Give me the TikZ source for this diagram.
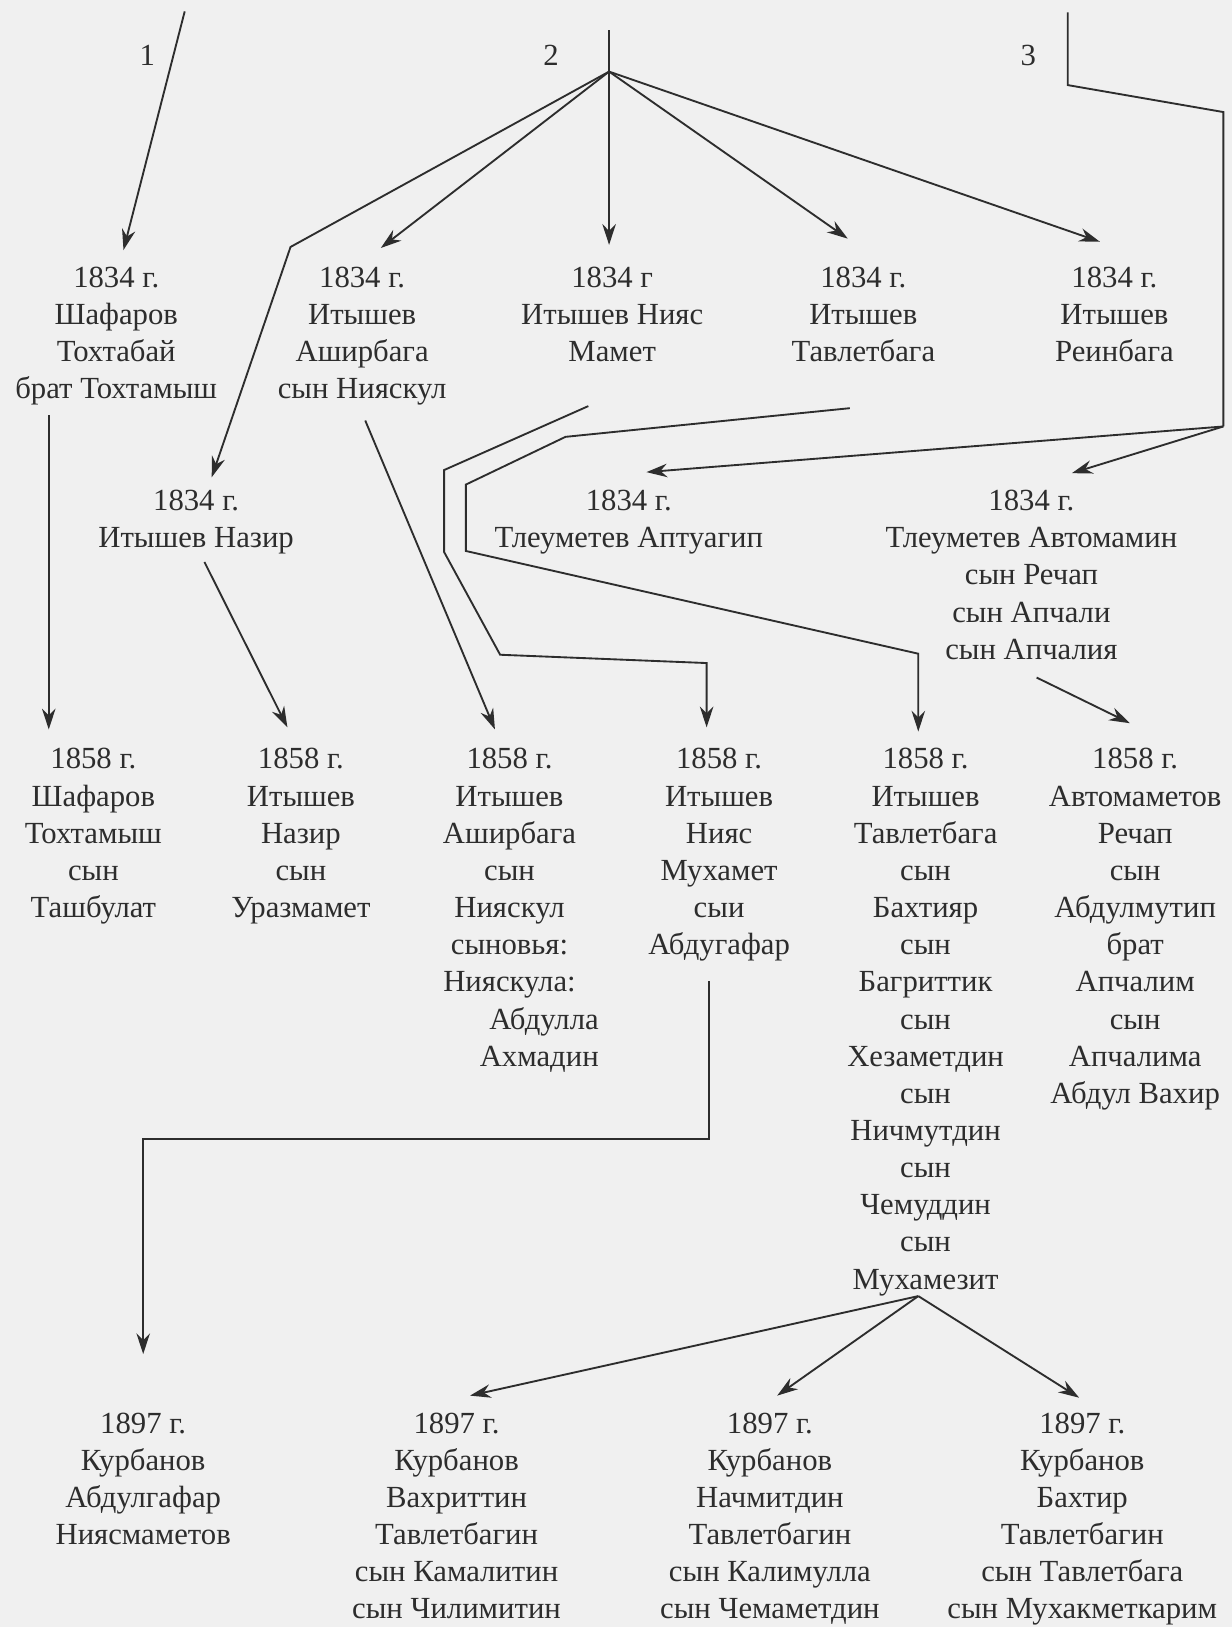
\documentclass[tikz,border=0pt]{standalone}
\usepackage{fontspec}
\setmainfont{Liberation Serif}
\usepackage{xcolor}
\usetikzlibrary{arrows.meta, calc}
\definecolor{ink}{RGB}{45,45,45}
\definecolor{paper}{RGB}{240,240,240}

\begin{document}
\begin{tikzpicture}[
    x=0.5pt,
    y=-0.5pt,
    >={Stealth[length=10pt, width=6.5pt]},
    person/.style={anchor=north, align=center, inner sep=0pt, text=ink, font=\fontsize{14.8}{17.9}\selectfont},
    num/.style={text=ink, font=\fontsize{14.8}{17.9}\selectfont},
    link/.style={draw=ink, line width=0.9pt}
]
% Page
\fill[paper] (0,0) rectangle (1187,1568);
\useasboundingbox (0,0) rectangle (1187,1568);
% Branch numbers
\node[num] (n1) at (142,53) {1};
\node[num] (n2) at (531,53) {2};
\node[num] (n3) at (991,53) {3};
\coordinate (top1) at (178,11);
\coordinate (top2) at (587,29);
\coordinate (hub) at (587,69);
\coordinate (top3) at (1029,12);
\coordinate (split3) at (1179,411);
% 1834
\node[person] (a1) at (112,257) {1834 г.\\Шафаров\\Тохтабай\\брат Тохтамыш};
\node[person] (a2) at (349,257) {1834 г.\\Итышев\\Аширбага\\сын Нияскул};
\node[person] (a3) at (590,257) {1834 г\\Итышев Нияс\\Мамет};
\node[person] (a4) at (832,257) {1834 г.\\Итышев\\Тавлетбага};
\node[person] (a5) at (1074,257) {1834 г.\\Итышев\\Реинбага};
\node[person] (b1) at (189,472) {1834 г.\\Итышев Назир};
\node[person] (b2) at (606,472) {1834 г.\\Тлеуметев Аптуагип};
\node[person] (b3) at (994,472) {1834 г.\\Тлеуметев Автомамин\\сын Речап\\сын Апчали\\сын Апчалия};
% 1858
\node[person] (c1) at (90,721) {1858 г.\\Шафаров\\Тохтамыш\\сын\\Ташбулат};
\node[person] (c2) at (290,721) {1858 г.\\Итышев\\Назир\\сын\\Уразмамет};
\node[person] (c3) at (491,721) {1858 г.\\Итышев\\Аширбага\\сын\\Нияскул\\сыновья:\\Нияскула:\\\makebox[86pt][r]{Абдулла}\\\makebox[86pt][r]{Ахмадин}};
\node[person] (c4) at (693,721) {1858 г.\\Итышев\\Нияс\\Мухамет\\сыи\\Абдугафар};
\node[person] (c5) at (892,721) {1858 г.\\Итышев\\Тавлетбага\\сын\\Бахтияр\\сын\\Багриттик\\сын\\Хезаметдин\\сын\\Ничмутдин\\сын\\Чемуддин\\сын\\Мухамезит};
\node[person] (c6) at (1094,721) {1858 г.\\Автомаметов\\Речап\\сын\\Абдулмутип\\брат\\Апчалим\\сын\\Апчалима\\Абдул Вахир};
% 1897
\node[person] (d1) at (138,1361) {1897 г.\\Курбанов\\Абдулгафар\\Ниясмаметов};
\node[person] (d2) at (440,1361) {1897 г.\\Курбанов\\Вахриттин\\Тавлетбагин\\сын Камалитин\\сын Чилимитин};
\node[person] (d3) at (742,1361) {1897 г.\\Курбанов\\Начмитдин\\Тавлетбагин\\сын Калимулла\\сын Чемаметдин};
\node[person] (d4) at (1043,1361) {1897 г.\\Курбанов\\Бахтир\\Тавлетбагин\\сын Тавлетбага\\сын Мухакметкарим};
% Branch 1
\draw[link, ->] (top1) -- ($(a1.north)+(7,-16)$);
% Branch 2
\draw[link] (top2) -- (hub);
\draw[link, ->] (hub) -- ($(a2.north)+(18,-18)$);
\draw[link, ->] (hub) -- ($(a3.north)+(-3,-21)$);
\draw[link, ->] (hub) -- ($(a4.north)+(-15,-27)$);
\draw[link, ->] (hub) -- ($(a5.north)+(-14,-24)$);
\draw[link, ->] (hub) -- (280,238) -- ($(b1.north)+(15,-12)$);
% Branch 3
\draw[link] (top3) -- (1029,82) -- (1179,108) -- (split3);
\draw[link, ->] (split3) -- ($(b2.north)+(17,-17)$);
\draw[link, ->] (split3) -- ($(b3.north)+(39,-16)$);
% 1834 -> 1858
\draw[link, ->] ($(a1.south)+(-65,9)$) -- ($(c1.north)+(-43,-18)$);
\draw[link, ->] ($(b1.south)+(8,7)$) -- ($(c2.north)+(-13,-20)$);
\draw[link, ->] ($(a2.south)+(3,14)$) -- ($(c3.north)+(-14,-18)$);
\draw[link, ->] ($(a3.south)+(-23,42)$) -- (428,453) -- (428,532) -- (482,631) -- (681,639) -- ($(c4.north)+(-12,-20)$);
\draw[link, ->] ($(a4.south)+(-13,44)$) -- (545,421) -- (449,467) -- (449,531) -- (885,630) -- ($(c5.north)+(-7,-16)$);
\draw[link, ->] ($(b3.south)+(5,17)$) -- ($(c6.north)+(-5,-24)$);
% 1858 -> 1897
\draw[link, ->] ($(c4.south)+(-10,19)$) -- (683,1098) -- (138,1098) -- ($(d1.north)+(0,-56)$);
\coordinate (fork) at ($(c5.south)+(-7,0)$);
\draw[link, ->] (fork) -- ($(d2.north)+(13,-16)$);
\draw[link, ->] (fork) -- ($(d3.north)+(7,-16)$);
\draw[link, ->] (fork) -- ($(d4.north)+(-3,-14)$);
\end{tikzpicture}
\end{document}
